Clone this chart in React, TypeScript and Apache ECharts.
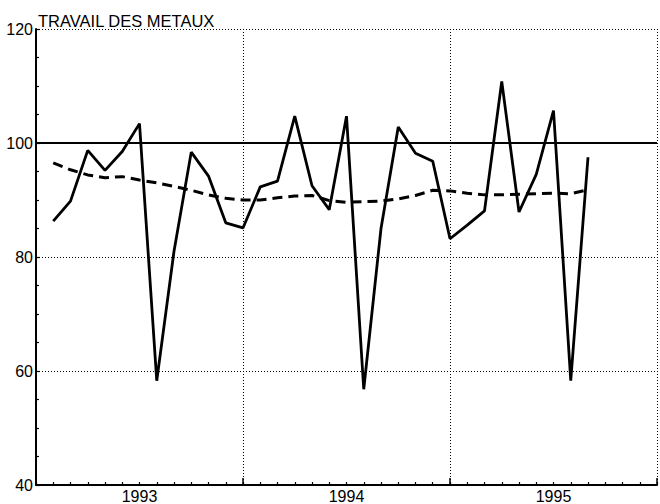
import React, { useEffect, useRef } from "react";
import * as echarts from "echarts";

// month index: 0 = January 1993
const monthIndex = [1, 2, 3, 4, 5, 6, 7, 8, 9, 10, 11, 12, 13, 14, 15, 16, 17, 18, 19, 20, 21, 22, 23, 24, 25, 26, 27, 28, 29, 30, 31, 32];
const production = [86.3, 89.8, 98.7, 95.2, 98.5, 103.4, 58.3, 81.0, 98.4, 94.2, 86.0, 85.1, 92.3, 93.3, 104.7, 92.5, 88.3, 104.7, 56.8, 85.0, 102.8, 98.2, 96.8, 83.2, 85.6, 88.1, 110.8, 87.9, 94.5, 105.7, 58.3, 97.5];
const trend = [96.5, 95.3, 94.4, 93.9, 94.1, 93.5, 93.0, 92.4, 91.7, 90.9, 90.3, 90.0, 90.0, 90.4, 90.7, 90.8, 89.9, 89.6, 89.7, 89.8, 90.2, 90.8, 91.7, 91.6, 91.2, 90.9, 90.9, 91.0, 91.1, 91.2, 91.1, 91.8];
const yearLabels: Record<number, string> = { 6: "1993", 18: "1994", 30: "1995" };
const titleText = "TRAVAIL DES METAUX";
const referenceLevel = 100;

const FONT = "'Liberation Sans', Arial, sans-serif";

export default function App() {
  const ref = useRef<HTMLDivElement>(null);
  useEffect(() => {
    if (!ref.current) return;
    const chart = echarts.init(ref.current, undefined, { renderer: "svg" });
    chart.setOption({
      animation: false,
      backgroundColor: "#ffffff",
      graphic: [
        {
          type: "text",
          x: 38,
          y: 21,
          style: {
            text: titleText,
            font: "16.5px 'Liberation Sans', Arial, sans-serif",
            fill: "#000",
            textVerticalAlign: "middle",
            verticalAlign: "middle",
          },
        },
      ],
      grid: { left: 36, right: -5, top: 29, bottom: 18 },
      xAxis: [
        {
          type: "value",
          min: 0,
          max: 36,
          interval: 12,
          position: "bottom",
          axisLine: { show: true, lineStyle: { color: "#000", width: 2 } },
          axisTick: { show: true, inside: true, length: 7, lineStyle: { color: "#000", width: 1.5 } },
          axisLabel: { show: false },
          splitLine: { show: true, lineStyle: { color: "#000", type: [1, 2], width: 1 } },
        },
        {
          type: "value",
          min: 0,
          max: 36,
          interval: 1,
          position: "bottom",
          axisLine: { show: false },
          axisTick: { show: true, inside: true, length: 3, lineStyle: { color: "#000", width: 1.2 } },
          axisLabel: {
            show: true,
            margin: 3,
            fontFamily: FONT,
            fontSize: 16,
            color: "#000",
            formatter: (v: number) => yearLabels[v] ?? "",
          },
          splitLine: { show: false },
        },
      ],
      yAxis: {
        type: "value",
        min: 40,
        max: 120,
        interval: 20,
        axisLine: { show: true, lineStyle: { color: "#000", width: 2 } },
        axisTick: { show: true, inside: true, length: 4, lineStyle: { color: "#000", width: 1.2 } },
        minorTick: { show: true, splitNumber: 4, length: 3, lineStyle: { color: "#000", width: 1.2 } },
        axisLabel: { margin: 3, fontFamily: FONT, fontSize: 16, color: "#000" },
        splitLine: { show: true, lineStyle: { color: "#000", type: [1, 2], width: 1 } },
      },
      series: [
        {
          type: "line",
          xAxisIndex: 0,
          data: monthIndex.map((m, i) => [m, production[i]]),
          symbol: "none",
          lineStyle: { color: "#000", width: 2.8 },
          markLine: {
            silent: true,
            symbol: "none",
            label: { show: false },
            lineStyle: { color: "#000", width: 2, type: "solid" },
            data: [{ yAxis: referenceLevel }],
          },
        },
        {
          type: "line",
          xAxisIndex: 0,
          data: monthIndex.map((m, i) => [m, trend[i]]),
          symbol: "none",
          lineStyle: { color: "#000", width: 3, type: [10, 6] },
        },
      ],
    });
    return () => chart.dispose();
  }, []);
  return (
    <div
      ref={ref}
      style={{ position: "fixed", left: 0, top: 0, width: 660, height: 504 }}
    />
  );
}
